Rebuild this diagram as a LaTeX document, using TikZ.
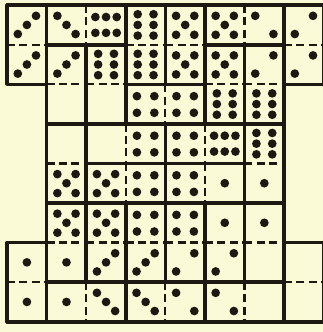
\documentclass[tikz,border=0pt]{standalone}
\usepackage{xcolor}
\usepackage{tikz}

\definecolor{paper}{RGB}{251,250,214}
\definecolor{ink}{RGB}{30,24,18}

% pip layouts inside one cell, corner at (0,0), y runs down
\def\oneP{0.5/0.5}
\def\twoD{0.27/0.27,0.73/0.73}
\def\twoA{0.73/0.27,0.27/0.73}
\def\threeD{0.27/0.27,0.5/0.5,0.73/0.73}
\def\threeA{0.73/0.27,0.5/0.5,0.27/0.73}
\def\fourP{0.28/0.3,0.72/0.3,0.28/0.72,0.72/0.72}
\def\fiveP{0.27/0.27,0.73/0.27,0.5/0.5,0.27/0.75,0.73/0.75}
\def\sixV{0.3/0.23,0.7/0.23,0.3/0.5,0.7/0.5,0.3/0.77,0.7/0.77}
\def\sixH{0.23/0.3,0.5/0.3,0.77/0.3,0.23/0.7,0.5/0.7,0.77/0.7}

\newcommand{\face}[2]{\foreach \cx/\cy in {#2} {\foreach \dx/\dy in #1 {\fill[pip] (\cx+\dx,\cy+\dy) circle (0.11);}}}

\begin{document}
\begin{tikzpicture}[x=0.7cm, y=-0.7cm]
\tikzstyle{bone} = [draw=ink, line width=1.8pt, line join=round]
\tikzstyle{split} = [draw=ink, line width=1.1pt, dash pattern=on 4pt off 2.2pt]
\tikzstyle{pip} = [fill=ink]

% paper
\fill[paper] (-0.18,-0.13) rectangle (7.98,8.26);
\useasboundingbox (-0.18,-0.13) rectangle (7.98,8.26);

% standing dominoes
\foreach \cx/\cy in {0/0, 3/0, 4/0, 7/0, 1/1, 2/1, 5/1, 6/1, 1/3, 6/3, 1/5, 2/5, 3/5, 4/5, 5/5, 6/5, 0/6, 7/6} {
  \draw[split] (\cx,\cy+1) -- ++(1,0);
  \draw[bone] (\cx,\cy) rectangle ++(1,2);
}

% lying dominoes
\foreach \cx/\cy in {1/0, 5/0, 3/2, 2/3, 4/3, 2/4, 4/4, 1/7, 3/7, 5/7} {
  \draw[split] (\cx+1,\cy) -- ++(0,1);
  \draw[bone] (\cx,\cy) rectangle ++(2,1);
}

% pips
\face{\oneP}{5/4, 6/4, 5/5, 6/5, 0/6, 1/6, 0/7, 1/7}
\face{\twoD}{6/0, 4/7, 5/7}
\face{\twoA}{7/0, 6/1, 7/1, 4/6, 5/6}
\face{\threeD}{1/0, 2/7, 3/7}
\face{\threeA}{0/0, 0/1, 1/1, 2/6, 3/6}
\face{\fourP}{3/2, 4/2, 3/3, 4/3, 3/4, 4/4, 3/5, 4/5}
\face{\fiveP}{4/0, 5/0, 4/1, 5/1, 1/4, 2/4, 1/5, 2/5}
\face{\sixV}{3/0, 2/1, 3/1, 5/2, 6/2, 6/3}
\face{\sixH}{2/0, 5/3}

\end{tikzpicture}
\end{document}
